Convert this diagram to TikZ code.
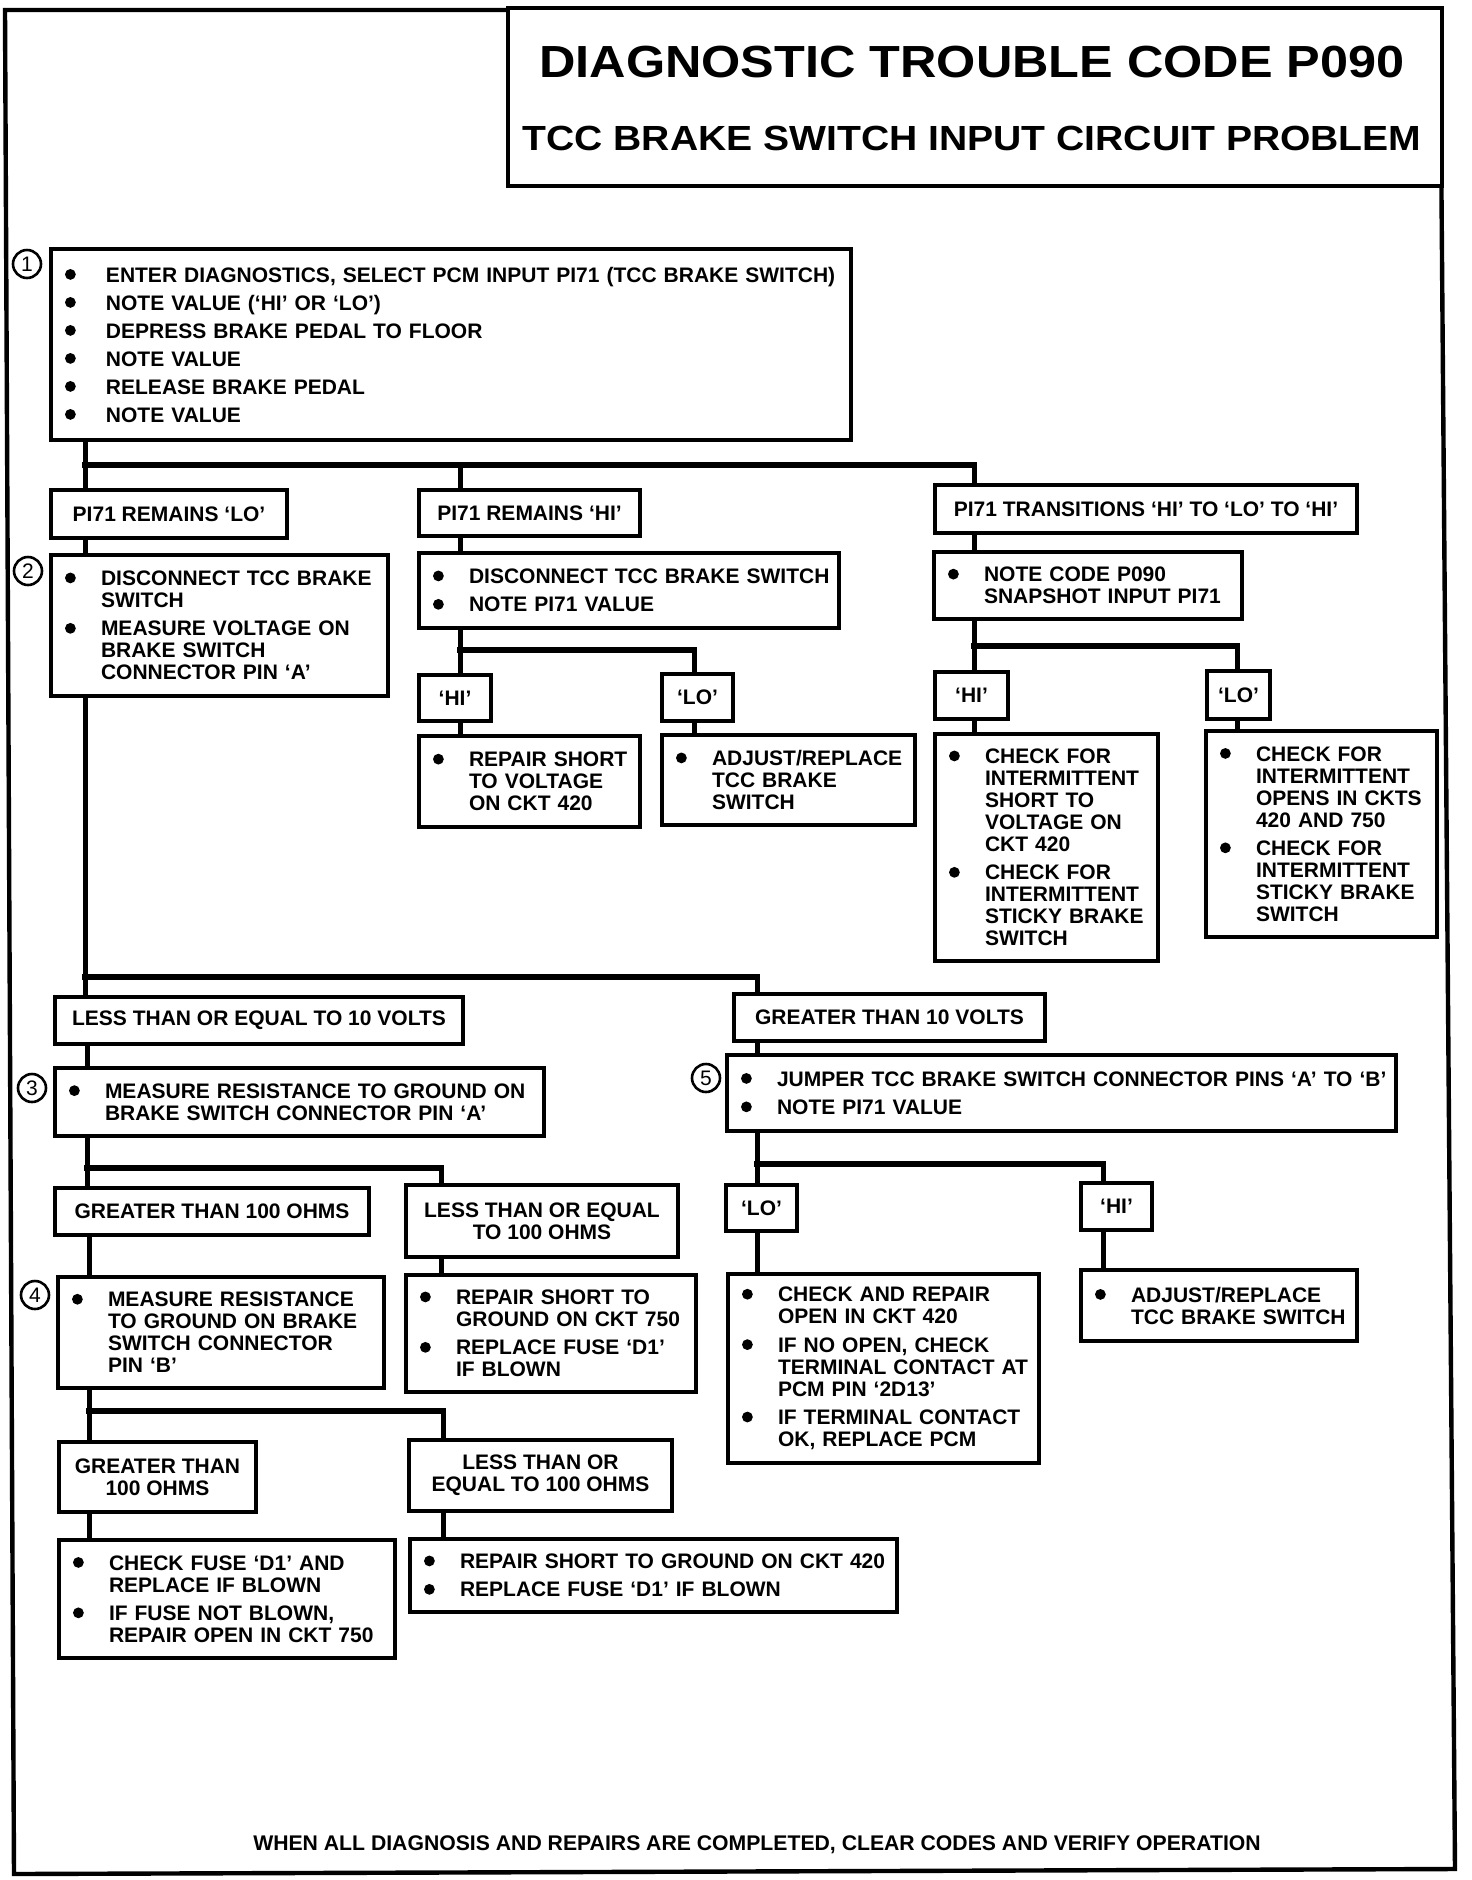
\documentclass[tikz,border=0pt]{standalone}
\usepackage{fontspec}
\setmainfont{Liberation Sans}
\newfontfamily\tfont{Liberation Sans}[FakeStretch=1.12]
\newcommand\bx{\fontsize{10.5pt}{11pt}\selectfont\bfseries}
\newcommand\dotb{\tikz[baseline=-3.8pt]\fill (0,0) circle (2.7pt);}
\newcommand\bl[2][18pt]{\mbox{\makebox[#1][l]{\dotb}#2}}
\newcommand\cl[2][18pt]{\mbox{\hspace*{#1}#2}}
\newcommand\bbox[6]{%
  \pgfmathsetlengthmacro\mybw{(#4-#2)*0.5pt-14pt}%
  \pgfmathsetlengthmacro\mybh{(#5-#3)*0.5pt}%
  \node[bbx, text width=\mybw, minimum height=\mybh] (#1) at (#2,#3) {#6};}
\newcommand\lbox[6]{%
  \pgfmathsetlengthmacro\mybw{(#4-#2)*0.5pt}%
  \pgfmathsetlengthmacro\mybh{(#5-#3)*0.5pt}%
  \node[lbx, minimum width=\mybw, minimum height=\mybh] (#1) at (#2,#3) {#6};}
\newcommand\tree[5]{%
  \draw[vl] (#1.south -| #2,0) -- (#2,#3);
  \draw[hb] (#2,#3) -- (#4,#3);
  \foreach \c/\xx in {#5}{\draw[vl] (\xx,#3) -- (\c.north -| \xx,0);}}
\newcommand\link[3]{\draw[vl] (#1.south -| #3,0) -- (#2.north -| #3,0);}
\begin{document}
\begin{tikzpicture}[x=0.5pt,y=-0.5pt,
  bbx/.style={draw, line width=2pt, anchor=north west, inner xsep=7pt, inner ysep=0pt, align=left, font=\bx},
  lbx/.style={draw, line width=2pt, anchor=north west, inner sep=0pt, align=center, font=\bx},
  vl/.style={line width=2.5pt},
  hb/.style={line width=3.4pt, line cap=rect},
  numc/.style={draw, circle, line width=1.3pt, minimum size=14pt, inner sep=0pt, font=\fontsize{10.5pt}{10.5pt}\selectfont}]
\useasboundingbox (0,0) rectangle (1472,1880);
% frame (slightly skewed like the scan)
\draw[line width=2.2pt, line join=miter] (5,10) -- (1440,10) -- (1455,1869) -- (14,1874) -- cycle;
% title
\pgfmathsetlengthmacro\mybw{(1440-506)*0.5pt}
\pgfmathsetlengthmacro\mybh{(184-6)*0.5pt}
\node[draw, fill=white, line width=2pt, anchor=north west, minimum width=\mybw, minimum height=\mybh, inner sep=0pt] (title) at (506,6) {};
\node[font=\tfont\bfseries\fontsize{22.5pt}{22.5pt}\selectfont] (t1) at (972,62) {DIAGNOSTIC TROUBLE CODE P090};
\node[font=\tfont\bfseries\fontsize{17.45pt}{17.45pt}\selectfont] (t2) at (972,138) {TCC BRAKE SWITCH INPUT CIRCUIT PROBLEM};

% step 1
\bbox{b1}{49}{247}{849}{438}{\bl[20.5pt]{ENTER DIAGNOSTICS, SELECT PCM INPUT PI71 (TCC BRAKE SWITCH)}\\[3pt]
\bl[20.5pt]{NOTE VALUE (‘HI’ OR ‘LO’)}\\[3pt]
\bl[20.5pt]{DEPRESS BRAKE PEDAL TO FLOOR}\\[3pt]
\bl[20.5pt]{NOTE VALUE}\\[3pt]
\bl[20.5pt]{RELEASE BRAKE PEDAL}\\[3pt]
\bl[20.5pt]{NOTE VALUE}}
\node[numc] (n1) at (27,264) {1};

\lbox{lo1}{49}{488}{285}{536}{PI71 REMAINS ‘LO’}
\lbox{hi1}{417}{488}{638}{534}{PI71 REMAINS ‘HI’}
\lbox{tr1}{933}{483}{1355}{531}{PI71 TRANSITIONS ‘HI’ TO ‘LO’ TO ‘HI’}
\tree{b1}{85}{465}{974}{lo1/85,hi1/460,tr1/974}

% step 2
\bbox{b2}{49}{553}{386}{694}{\bl{DISCONNECT TCC BRAKE}\\ \cl{SWITCH}\\[3.2pt]
\bl{MEASURE VOLTAGE ON}\\ \cl{BRAKE SWITCH}\\ \cl{CONNECTOR PIN ‘A’}}
\node[numc] (n2) at (28,571) {2};
\link{lo1}{b2}{85}

\bbox{dis}{417}{551}{837}{626}{\bl{DISCONNECT TCC BRAKE SWITCH}\\[3.2pt]\bl{NOTE PI71 VALUE}}
\link{hi1}{dis}{460}
\bbox{note}{932}{550}{1240}{617}{\bl{NOTE CODE P090}\\ \cl{SNAPSHOT INPUT PI71}}
\link{tr1}{note}{974}

\lbox{hiA}{417}{673}{489}{719}{‘HI’}
\lbox{loA}{660}{672}{731}{719}{‘LO’}
\tree{dis}{460}{650}{694}{hiA/460,loA/694}
\bbox{rep}{417}{734}{638}{825}{\bl{REPAIR SHORT}\\ \cl{TO VOLTAGE}\\ \cl{ON CKT 420}}
\bbox{adj}{660}{733}{913}{823}{\bl{ADJUST/REPLACE}\\ \cl{TCC BRAKE}\\ \cl{SWITCH}}
\link{hiA}{rep}{460}
\link{loA}{adj}{694}

\lbox{hiB}{933}{670}{1006}{717}{‘HI’}
\lbox{loB}{1205}{669}{1268}{717}{‘LO’}
\tree{note}{974}{646}{1237}{hiB/974,loB/1237}
\bbox{chkA}{933}{732}{1156}{959}{\bl{CHECK FOR}\\ \cl{INTERMITTENT}\\ \cl{SHORT TO}\\ \cl{VOLTAGE ON}\\ \cl{CKT 420}\\[3.2pt]
\bl{CHECK FOR}\\ \cl{INTERMITTENT}\\ \cl{STICKY BRAKE}\\ \cl{SWITCH}}
\bbox{chkB}{1204}{729}{1435}{935}{\bl{CHECK FOR}\\ \cl{INTERMITTENT}\\ \cl{OPENS IN CKTS}\\ \cl{420 AND 750}\\[3.2pt]
\bl{CHECK FOR}\\ \cl{INTERMITTENT}\\ \cl{STICKY BRAKE}\\ \cl{SWITCH}}
\link{hiB}{chkA}{974}
\link{loB}{chkB}{1237}

% voltage branch
\lbox{le10}{53}{995}{461}{1042}{LESS THAN OR EQUAL TO 10 VOLTS}
\lbox{gt10}{732}{992}{1043}{1039}{GREATER THAN 10 VOLTS}
\tree{b2}{85}{977}{757}{le10/85,gt10/757}

% step 3
\bbox{b3}{53}{1066}{542}{1134}{\bl{MEASURE RESISTANCE TO GROUND ON}\\ \cl{BRAKE SWITCH CONNECTOR PIN ‘A’}}
\node[numc] (n3) at (32,1088) {3};
\link{le10}{b3}{87}

% step 5
\bbox{b5}{725}{1053}{1394}{1129}{\bl{JUMPER TCC BRAKE SWITCH CONNECTOR PINS ‘A’ TO ‘B’}\\[3.2pt]\bl{NOTE PI71 VALUE}}
\node[numc] (n5) at (706,1078) {5};
\link{gt10}{b5}{757}

\lbox{gt100}{53}{1186}{367}{1233}{GREATER THAN 100 OHMS}
\lbox{le100}{404}{1183}{676}{1255}{LESS THAN OR EQUAL\\TO 100 OHMS}
\tree{b3}{87}{1168}{441}{gt100/87,le100/441}

\lbox{loC}{724}{1183}{795}{1229}{‘LO’}
\lbox{hiC}{1079}{1181}{1150}{1228}{‘HI’}
\tree{b5}{757}{1164}{1103}{loC/757,hiC/1103}

% step 4
\bbox{b4}{56}{1275}{382}{1386}{\bl{MEASURE RESISTANCE}\\ \cl{TO GROUND ON BRAKE}\\ \cl{SWITCH CONNECTOR}\\ \cl{PIN ‘B’}}
\node[numc] (n4) at (35,1295) {4};
\link{gt100}{b4}{89}
\bbox{rep750}{404}{1273}{694}{1390}{\bl{REPAIR SHORT TO}\\ \cl{GROUND ON CKT 750}\\[3.2pt]
\bl{REPLACE FUSE ‘D1’}\\ \cl{IF BLOWN}}
\link{le100}{rep750}{441}

\bbox{chkrep}{726}{1272}{1037}{1461}{\bl{CHECK AND REPAIR}\\ \cl{OPEN IN CKT 420}\\[3.2pt]
\bl{IF NO OPEN, CHECK}\\ \cl{TERMINAL CONTACT AT}\\ \cl{PCM PIN ‘2D13’}\\[3.2pt]
\bl{IF TERMINAL CONTACT}\\ \cl{OK, REPLACE PCM}}
\link{loC}{chkrep}{757}
\bbox{adj2}{1079}{1268}{1355}{1339}{\bl{ADJUST/REPLACE}\\ \cl{TCC BRAKE SWITCH}}
\link{hiC}{adj2}{1103}

\lbox{gt100b}{57}{1440}{254}{1510}{GREATER THAN\\100 OHMS}
\lbox{le100b}{407}{1438}{670}{1509}{LESS THAN OR\\EQUAL TO 100 OHMS}
\tree{b4}{89}{1411}{443}{gt100b/89,le100b/443}

\bbox{fuse}{57}{1538}{393}{1656}{\bl{CHECK FUSE ‘D1’ AND}\\ \cl{REPLACE IF BLOWN}\\[3.2pt]
\bl{IF FUSE NOT BLOWN,}\\ \cl{REPAIR OPEN IN CKT 750}}
\link{gt100b}{fuse}{89}
\bbox{rep420}{408}{1537}{895}{1610}{\bl{REPAIR SHORT TO GROUND ON CKT 420}\\[3.2pt]\bl{REPLACE FUSE ‘D1’ IF BLOWN}}
\link{le100b}{rep420}{443}

\node[font=\fontsize{10.6pt}{11pt}\selectfont\bfseries] (foot) at (757,1845) {WHEN ALL DIAGNOSIS AND REPAIRS ARE COMPLETED, CLEAR CODES AND VERIFY OPERATION};
\end{tikzpicture}
\end{document}
